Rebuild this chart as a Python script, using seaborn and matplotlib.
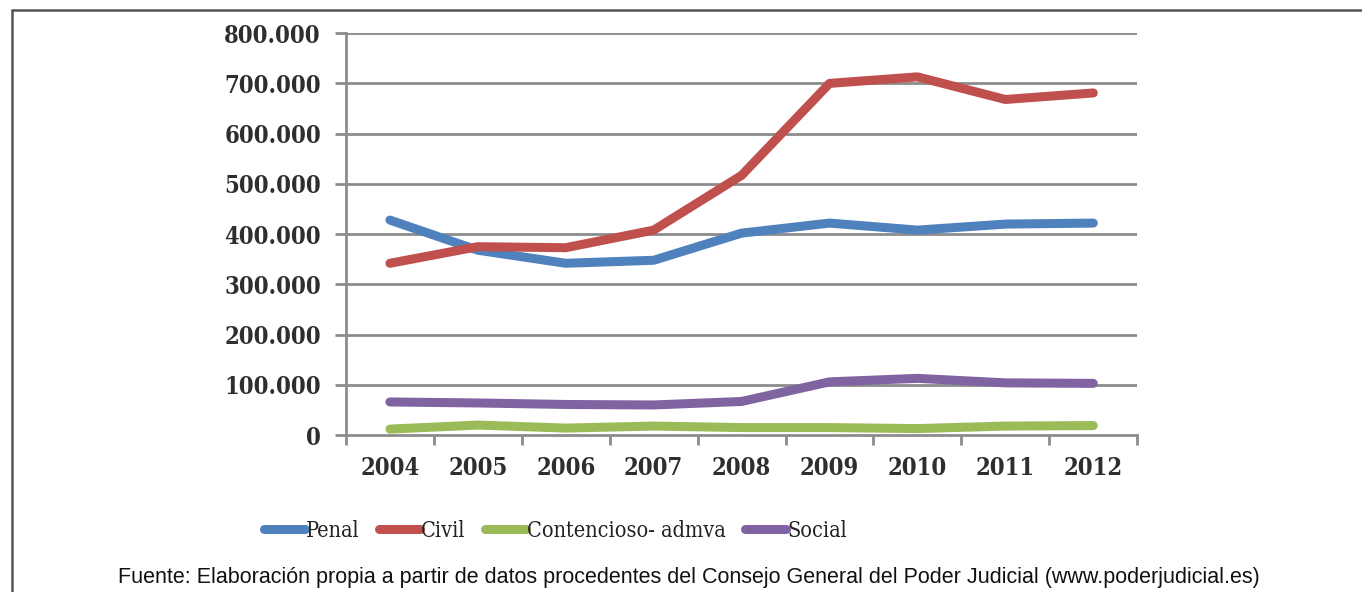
import matplotlib
matplotlib.use("Agg")
import matplotlib.pyplot as plt
from matplotlib.lines import Line2D
from matplotlib.ticker import FuncFormatter, FixedLocator
import seaborn as sns
import pandas as pd

# Asuntos ingresados por jurisdicción (2004-2012)
years = [2004, 2005, 2006, 2007, 2008, 2009, 2010, 2011, 2012]
penal = [428000, 368000, 342000, 348000, 402000, 422000, 408000, 420000, 422000]
civil = [342000, 375000, 373000, 408000, 517000, 700000, 713000, 668000, 681000]
contencioso = [12000, 20000, 14000, 18000, 15000, 15000, 13000, 18000, 19000]
social = [66000, 64000, 61000, 60000, 67000, 106000, 113000, 104000, 103000]

series_names = ["Penal", "Civil", "Contencioso- admva", "Social"]
series_values = [penal, civil, contencioso, social]
colors = ["#4F81BD", "#C0504D", "#9BBB59", "#8064A2"]
y_ticks = [0, 100000, 200000, 300000, 400000, 500000, 600000, 700000, 800000]
source_text = ("Fuente: Elaboración propia a partir de datos procedentes del "
               "Consejo General del Poder Judicial (www.poderjudicial.es)")

df = pd.DataFrame(
    [(y, name, v) for name, vals in zip(series_names, series_values)
     for y, v in zip(years, vals)],
    columns=["Año", "Serie", "Asuntos"],
)

sns.set_theme(style="white")
plt.rcParams["font.family"] = ["DejaVu Serif"]

fig = plt.figure(figsize=(13.62, 5.92), dpi=100)
ax = fig.add_axes([0.254, 0.265, 0.581, 0.679])

sns.lineplot(data=df, x="Año", y="Asuntos", hue="Serie",
             hue_order=series_names, palette=colors, linewidth=6.5,
             solid_capstyle="round", legend=False, ax=ax, zorder=3)

grid_color = "#8c8c8c"
text_color = "#2e2e2e"
ax.set_xlim(years[0] - 0.5, years[-1] + 0.5)
ax.set_ylim(0, 800000)
ax.set_yticks(y_ticks)
ax.yaxis.set_major_formatter(
    FuncFormatter(lambda v, p: "0" if v == 0 else f"{int(v):,}".replace(",", ".")))
ax.set_xticks(years)
ax.set_xticklabels([str(y) for y in years])
ax.xaxis.set_minor_locator(FixedLocator([y + 0.5 for y in [years[0] - 1] + years]))
ax.set_xlabel("")
ax.set_ylabel("")

for y in y_ticks[1:]:
    ax.axhline(y, color=grid_color, lw=2, zorder=1)

for side in ["top", "right"]:
    ax.spines[side].set_visible(False)
for side in ["left", "bottom"]:
    ax.spines[side].set_color(grid_color)
    ax.spines[side].set_linewidth(2)

ax.tick_params(axis="y", which="major", direction="out", length=8, width=2,
               color=grid_color, left=True, labelsize=17, labelcolor=text_color,
               pad=10)
ax.tick_params(axis="x", which="major", length=0, labelsize=17,
               labelcolor=text_color, pad=15)
ax.tick_params(axis="x", which="minor", direction="out", length=7, width=2,
               color=grid_color, bottom=True)
for lab in ax.get_xticklabels() + ax.get_yticklabels():
    lab.set_fontweight("bold")
    lab.set_fontstretch("condensed")

handles = [Line2D([0], [0], color=c, lw=6.5, solid_capstyle="round")
           for c in colors]
fig.legend(handles, series_names, loc="center", bbox_to_anchor=(0.408, 0.103),
           ncol=4, frameon=False, handlelength=1.9, handletextpad=0.05,
           columnspacing=0.9,
           prop={"family": "DejaVu Serif", "size": 15.5, "stretch": "condensed"},
           labelcolor="#222222")

fig.text(0.506, 0.025, source_text, ha="center", va="center",
         family="Liberation Sans", fontsize=15.5, color="#111111")

# Marco de la figura
frame_color = "#555555"
fig.add_artist(Line2D([0.009, 0.009], [0.0, 0.983], color=frame_color, lw=1.8,
                      transform=fig.transFigure))
fig.add_artist(Line2D([0.009, 1.0], [0.983, 0.983], color=frame_color, lw=1.8,
                      transform=fig.transFigure))

fig.savefig("out.png", dpi=100, facecolor="white")
